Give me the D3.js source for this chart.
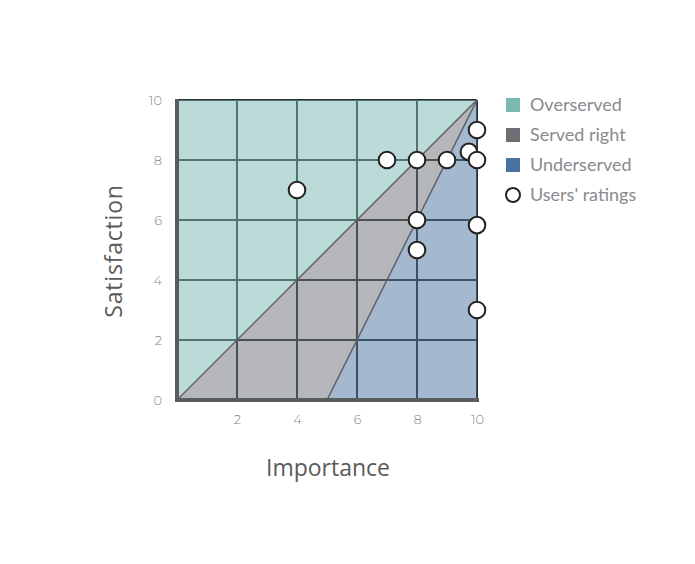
<!DOCTYPE html>
<html><head><meta charset="utf-8">
<script src="https://cdn.jsdelivr.net/npm/d3@7"></script>
<style>body{margin:0;background:#fff}</style>
</head><body>
<script>
const xTicks = [2, 4, 6, 8, 10];
const yTicks = [0, 2, 4, 6, 8, 10];
const gridValues = [2, 4, 6, 8, 10];
const regionNames = ["Overserved", "Served right", "Underserved"];
const regionColors = ["#7ab8b2", "#6d6f75", "#4a72a0"];
const regionPolys = [
  [[0,0],[0,10],[10,10]],
  [[0,0],[10,10],[5,0]],
  [[5,0],[10,10],[10,0]]
];
const ratingsX = [4, 7, 8, 9, 9.73, 10, 10, 8, 10, 8, 10];
const ratingsY = [7, 8, 8, 8, 8.27, 8, 9, 6, 5.83, 5, 3];

const W = 695, H = 564;
const svg = d3.select("body").append("svg").attr("width", W).attr("height", H);
const x = d3.scaleLinear().domain([0,10]).range([177,477]);
const y = d3.scaleLinear().domain([0,10]).range([400,100]);

const g = svg.append("g");
gridValues.forEach(v => {
  g.append("line").attr("x1", x(v)).attr("x2", x(v)).attr("y1", y(0)).attr("y2", y(10))
    .attr("stroke", "#263232").attr("stroke-width", 2);
  g.append("line").attr("x1", x(0)).attr("x2", x(10)).attr("y1", y(v)).attr("y2", y(v))
    .attr("stroke", "#263232").attr("stroke-width", 2);
});
regionPolys.forEach((p, i) => {
  svg.append("polygon").attr("points", p.map(d => x(d[0]) + "," + y(d[1])).join(" "))
    .attr("fill", regionColors[i]).attr("fill-opacity", 0.5);
});
svg.append("line").attr("x1", x(0)).attr("y1", y(0)).attr("x2", x(10)).attr("y2", y(10))
  .attr("stroke", "#5f6164").attr("stroke-width", 1.5);
svg.append("line").attr("x1", x(5)).attr("y1", y(0)).attr("x2", x(10)).attr("y2", y(10))
  .attr("stroke", "#5f6164").attr("stroke-width", 1.5);

svg.append("line").attr("x1", x(0)).attr("x2", x(0)).attr("y1", y(10)-1).attr("y2", y(0)+2)
  .attr("stroke", "#5a5d5e").attr("stroke-width", 4);
svg.append("line").attr("x1", x(0)-2).attr("x2", x(10)+2).attr("y1", y(0)).attr("y2", y(0))
  .attr("stroke", "#5a5d5e").attr("stroke-width", 4);

const tickFont = "Montserrat, 'DejaVu Sans', sans-serif";
const xa = svg.append("g").attr("transform", `translate(0,${y(0)+15})`)
  .call(d3.axisBottom(x).tickValues(xTicks).tickSize(0).tickPadding(0));
xa.select(".domain").remove();
xa.selectAll("text").attr("fill", "#8a8a8a").attr("font-size", 13).attr("font-family", tickFont)
  .attr("font-weight", 300).attr("dy", "0.71em");
const ya = svg.append("g").attr("transform", `translate(${x(0)-15},0)`)
  .call(d3.axisLeft(y).tickValues(yTicks).tickSize(0).tickPadding(0));
ya.select(".domain").remove();
ya.selectAll("text").attr("fill", "#8a8a8a").attr("font-size", 13).attr("font-family", tickFont)
  .attr("font-weight", 300);

svg.append("text").attr("x", 328).attr("y", 476).attr("text-anchor", "middle")
  .attr("font-family", "'Open Sans', sans-serif").attr("font-size", 23).attr("fill", "#5a5a5a")
  .text("Importance");
svg.append("text").attr("transform", "translate(122,251) rotate(-90)").attr("text-anchor", "middle")
  .attr("font-family", "'Open Sans', sans-serif").attr("font-size", 23).attr("fill", "#5a5a5a")
  .attr("letter-spacing", 0.8)
  .text("Satisfaction");

svg.append("g").selectAll("circle").data(ratingsX.map((v,i)=>[v, ratingsY[i]])).join("circle")
  .attr("cx", d => x(d[0])).attr("cy", d => y(d[1])).attr("r", 8.3)
  .attr("fill", "#fff").attr("stroke", "#222").attr("stroke-width", 2);

const lg = svg.append("g").attr("transform", "translate(506,98)");
regionNames.forEach((n, i) => {
  lg.append("rect").attr("x", 0).attr("y", i*30).attr("width", 14).attr("height", 14).attr("fill", regionColors[i]);
  lg.append("text").attr("x", 24).attr("y", i*30 + 7).attr("dy", "0.35em")
    .attr("font-family", "Lato, sans-serif").attr("font-size", 18).attr("fill", "#8a8a8e").text(n);
});
lg.append("circle").attr("cx", 7).attr("cy", 97).attr("r", 7).attr("fill", "#fff").attr("stroke", "#222").attr("stroke-width", 2);
lg.append("text").attr("x", 24).attr("y", 97).attr("dy", "0.35em")
  .attr("font-family", "Lato, sans-serif").attr("font-size", 18).attr("fill", "#8a8a8e").text("Users' ratings");
</script>
</body></html>
